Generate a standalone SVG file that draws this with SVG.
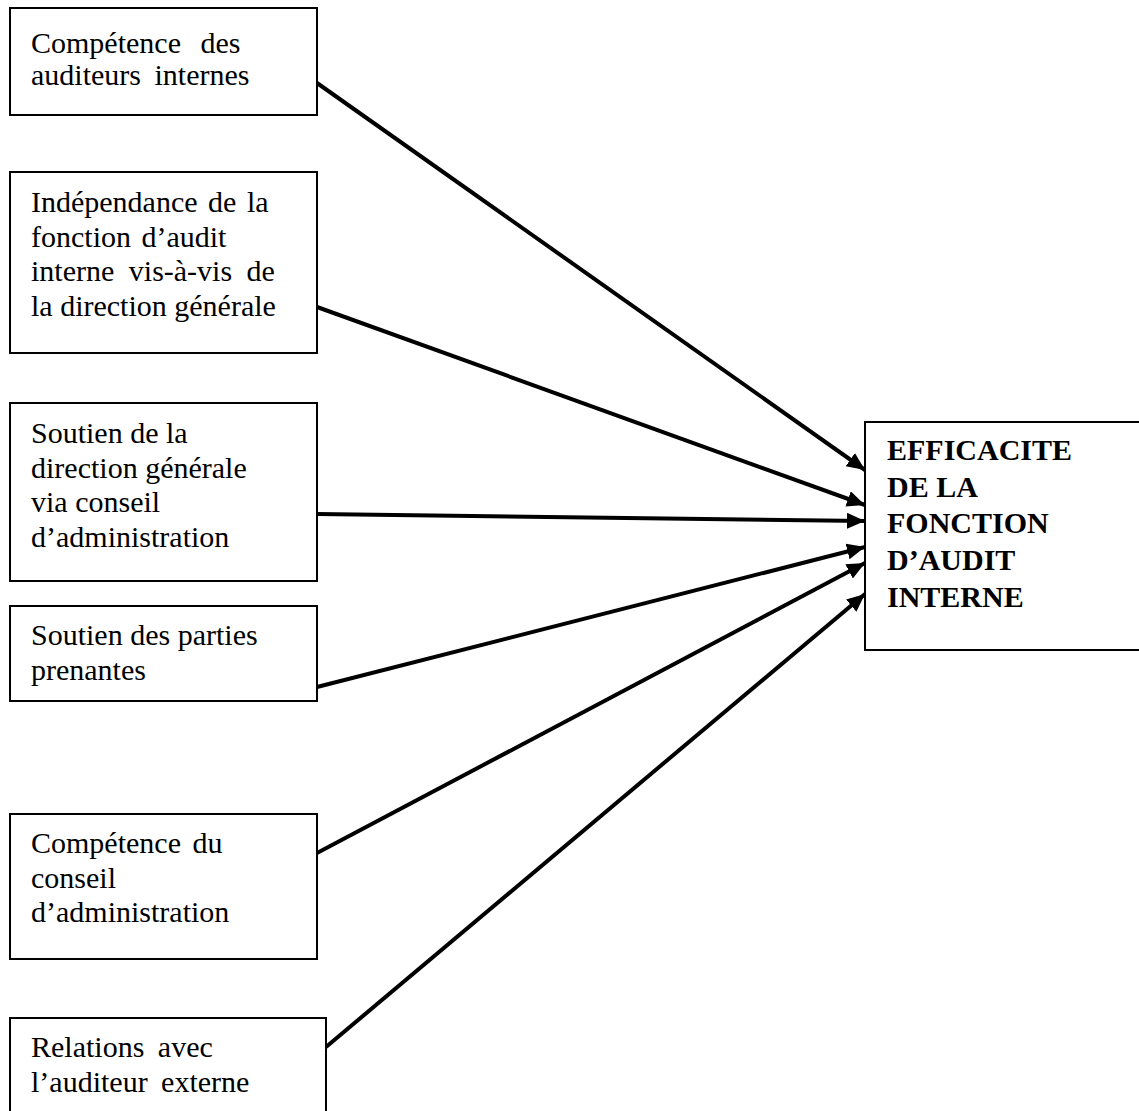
<svg xmlns="http://www.w3.org/2000/svg" width="1139" height="1111" viewBox="0 0 1139 1111">
<style>
.box{fill:#fff;stroke:#000;stroke-width:2}
.t{font-family:"Liberation Serif","Times New Roman",serif;font-size:30px;fill:#000}
.b{font-family:"Liberation Serif","Times New Roman",serif;font-size:30px;font-weight:bold;fill:#000}
.c{stroke:#000;stroke-width:4;fill:none;marker-end:url(#ah)}
</style>
<defs>
<marker id="ah" markerUnits="userSpaceOnUse" markerWidth="20" markerHeight="18" refX="18" refY="8" orient="auto">
<path d="M0,0 L18,8 L0,16 Z" fill="#000"/>
</marker>
</defs>
<rect width="1139" height="1111" fill="#fff"/>
<g id="connectors">
<line class="c" x1="317" y1="83" x2="865" y2="470"/>
<line class="c" x1="317" y1="307" x2="865" y2="505"/>
<line class="c" x1="317" y1="514" x2="865" y2="521"/>
<line class="c" x1="317" y1="687" x2="865" y2="547"/>
<line class="c" x1="317" y1="853" x2="865" y2="563"/>
<line class="c" x1="326" y1="1047" x2="865" y2="594"/>
</g>
<g id="n1">
<rect class="box" x="10" y="8" width="307" height="107"/>
<text class="t" x="31" y="52.5" word-spacing="12">Compétence des</text>
<text class="t" x="31" y="85" word-spacing="6">auditeurs internes</text>
</g>
<g id="n2">
<rect class="box" x="10" y="172" width="307" height="181"/>
<text class="t" x="31" y="212" word-spacing="3">Indépendance de la</text>
<text class="t" x="31" y="246.5" word-spacing="3">fonction d’audit</text>
<text class="t" x="31" y="281" word-spacing="7">interne vis-à-vis de</text>
<text class="t" x="31" y="315.5">la direction générale</text>
</g>
<g id="n3">
<rect class="box" x="10" y="403" width="307" height="178"/>
<text class="t" x="31" y="443">Soutien de la</text>
<text class="t" x="31" y="477.5">direction générale</text>
<text class="t" x="31" y="512">via conseil</text>
<text class="t" x="31" y="546.5">d’administration</text>
</g>
<g id="n4">
<rect class="box" x="10" y="606" width="307" height="95"/>
<text class="t" x="31" y="645">Soutien des parties</text>
<text class="t" x="31" y="679.5">prenantes</text>
</g>
<g id="n5">
<rect class="box" x="10" y="814" width="307" height="145"/>
<text class="t" x="31" y="853" word-spacing="4">Compétence du</text>
<text class="t" x="31" y="887.5">conseil</text>
<text class="t" x="31" y="922">d’administration</text>
</g>
<g id="n6">
<rect class="box" x="10" y="1018" width="316" height="110"/>
<text class="t" x="31" y="1057" word-spacing="6">Relations avec</text>
<text class="t" x="31" y="1092" word-spacing="6">l’auditeur externe</text>
</g>
<g id="target">
<rect class="box" x="865" y="422" width="290" height="228"/>
<text class="b" x="887" y="460">EFFICACITE</text>
<text class="b" x="887" y="497">DE LA</text>
<text class="b" x="887" y="533">FONCTION</text>
<text class="b" x="887" y="570">D’AUDIT</text>
<text class="b" x="887" y="607">INTERNE</text>
</g>
</svg>
